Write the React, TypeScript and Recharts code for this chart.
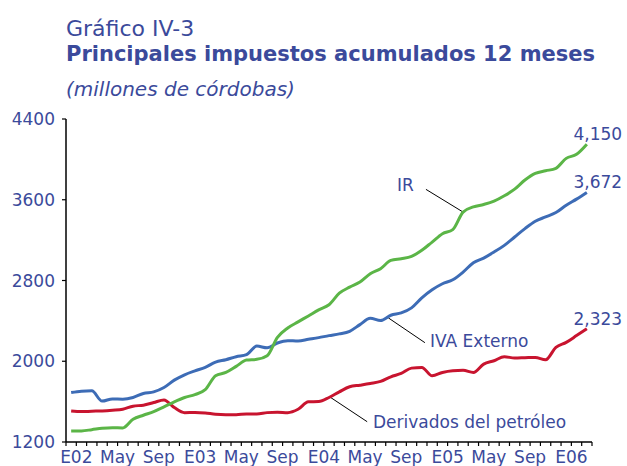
import { LineChart, Line, XAxis, YAxis, ReferenceLine, LabelList } from 'recharts';

const months = [
  'Ene02', 'Feb02', 'Mar02', 'Abr02', 'May02', 'Jun02', 'Jul02', 'Ago02', 'Sep02', 'Oct02', 'Nov02', 'Dic02',
  'Ene03', 'Feb03', 'Mar03', 'Abr03', 'May03', 'Jun03', 'Jul03', 'Ago03', 'Sep03', 'Oct03', 'Nov03', 'Dic03',
  'Ene04', 'Feb04', 'Mar04', 'Abr04', 'May04', 'Jun04', 'Jul04', 'Ago04', 'Sep04', 'Oct04', 'Nov04', 'Dic04',
  'Ene05', 'Feb05', 'Mar05', 'Abr05', 'May05', 'Jun05', 'Jul05', 'Ago05', 'Sep05', 'Oct05', 'Nov05', 'Dic05',
  'Ene06', 'Feb06', 'Mar06',
];

// IR
const ir = [
  1309, 1310, 1322, 1336, 1342, 1339, 1425, 1465, 1501, 1548, 1598, 1641,
  1670, 1718, 1856, 1889, 1949, 2012, 2019, 2055, 2237, 2330, 2390, 2449,
  2509, 2560, 2674, 2734, 2784, 2867, 2917, 2999, 3016, 3039, 3099, 3181,
  3264, 3304, 3478, 3529, 3553, 3586, 3639, 3705, 3795, 3861, 3887, 3911,
  4010, 4050, 4150,
];

// IVA Externo
const iva = [
  1690, 1704, 1707, 1605, 1627, 1624, 1641, 1681, 1697, 1740, 1813, 1866,
  1905, 1939, 1992, 2015, 2045, 2065, 2150, 2134, 2181, 2204, 2200, 2217,
  2234, 2254, 2271, 2297, 2363, 2426, 2403, 2456, 2479, 2529, 2628, 2708,
  2768, 2807, 2883, 2976, 3022, 3082, 3148, 3231, 3314, 3387, 3430, 3473,
  3546, 3606, 3672,
];

// Derivados del petróleo
const derivados = [
  1508, 1501, 1505, 1508, 1515, 1525, 1555, 1565, 1591, 1617, 1541, 1491,
  1493, 1488, 1475, 1471, 1471, 1478, 1478, 1491, 1495, 1491, 1524, 1598,
  1601, 1641, 1697, 1747, 1763, 1780, 1800, 1846, 1879, 1932, 1939, 1856,
  1889, 1906, 1910, 1889, 1972, 2005, 2045, 2032, 2035, 2038, 2015, 2138,
  2187, 2254, 2323,
];

const tickLabels = ['E02', 'May', 'Sep', 'E03', 'May', 'Sep', 'E04', 'May', 'Sep', 'E05', 'May', 'Sep', 'E06'];
const yTicks = [1200, 2000, 2800, 3600, 4400];

const data = months.map((m, i) => ({ idx: i, month: m, ir: ir[i], iva: iva[i], der: derivados[i] }));
const boundaries = months.map((_, i) => i - 0.5).concat(months.length - 0.5);
const last = months.length - 1;

const NAVY = '#3b4a9b';
const GREEN = '#5bb547';
const BLUE = '#3d6cb6';
const RED = '#c8142f';
const FONT = '"DejaVu Sans", sans-serif';

const XTick = (props: any) => {
  const { x, y, payload } = props;
  const i = payload.value - 0.5;
  const show = i >= 0 && i % 4 === 0;
  return (
    <g>
      <line x1={x} x2={x} y1={y} y2={y + 4} stroke="#000" strokeWidth={1.2} />
      {show && (
        <text x={x} y={y + 21} textAnchor="middle" fill={NAVY} fontSize={17} fontFamily={FONT}>
          {tickLabels[i / 4]}
        </text>
      )}
    </g>
  );
};

const endLabel = (props: any) => {
  const { x, y, value, index } = props;
  if (index !== last) return null;
  return (
    <text x={x + 11} y={y - 4} textAnchor="middle" fill={NAVY} fontSize={17} fontFamily={FONT}>
      {Number(value).toLocaleString('en-US')}
    </text>
  );
};

export default function App() {
  return (
    <div style={{ position: 'absolute', left: 0, top: 0, width: 627, height: 466, background: '#fff' }}>
      <LineChart width={627} height={466} data={data} margin={{ top: 119, right: 35, bottom: 0, left: 0 }}>
        <XAxis
          dataKey="idx"
          type="number"
          domain={[-0.5, last + 0.5]}
          ticks={boundaries}
          interval={0}
          height={24}
          tickSize={0}
          tickMargin={0}
          tickLine={false}
          tick={<XTick />}
          axisLine={{ stroke: '#000', strokeWidth: 1.5 }}
        />
        <YAxis
          domain={[1200, 4400]}
          ticks={yTicks}
          width={66}
          tickSize={4}
          tickMargin={7}
          interval={0}
          axisLine={{ stroke: '#000', strokeWidth: 1.5 }}
          tickLine={{ stroke: '#000', strokeWidth: 1.2 }}
          tick={{ fill: NAVY, fontSize: 17, fontFamily: FONT }}
        />
        <ReferenceLine segment={[{ x: 34.4, y: 3703 }, { x: 38, y: 3478 }]} stroke="#000" strokeWidth={1} ifOverflow="visible" />
        <ReferenceLine segment={[{ x: 30.75, y: 2430 }, { x: 34.3, y: 2184 }]} stroke="#000" strokeWidth={1} ifOverflow="visible" />
        <ReferenceLine segment={[{ x: 25.1, y: 1645 }, { x: 28.7, y: 1401 }]} stroke="#000" strokeWidth={1} ifOverflow="visible" />
        <Line type="monotone" dataKey="der" stroke={RED} strokeWidth={3} dot={false} isAnimationActive={false}>
          <LabelList dataKey="der" content={endLabel} />
        </Line>
        <Line type="monotone" dataKey="iva" stroke={BLUE} strokeWidth={3} dot={false} isAnimationActive={false}>
          <LabelList dataKey="iva" content={endLabel} />
        </Line>
        <Line type="monotone" dataKey="ir" stroke={GREEN} strokeWidth={3} dot={false} isAnimationActive={false}>
          <LabelList dataKey="ir" content={endLabel} />
        </Line>
      </LineChart>
      <svg width={627} height={466} style={{ position: 'absolute', left: 0, top: 0, pointerEvents: 'none' }}>
        <text x={66} y={35.7} fill={NAVY} fontSize={22} fontFamily={FONT}>Gráfico IV-3</text>
        <text x={66} y={61} fill={NAVY} fontSize={21} fontWeight="bold" fontFamily={FONT}>
          Principales impuestos acumulados 12 meses
        </text>
        <text x={66} y={96} fill={NAVY} fontSize={20} fontStyle="italic" fontFamily={FONT}>(millones de córdobas)</text>
        <text x={397} y={190.7} fill={NAVY} fontSize={17} fontFamily={FONT}>IR</text>
        <text x={430} y={346.7} fill={NAVY} fontSize={17} fontFamily={FONT}>IVA Externo</text>
        <text x={373} y={428} fill={NAVY} fontSize={17} fontFamily={FONT}>Derivados del petróleo</text>
      </svg>
    </div>
  );
}
